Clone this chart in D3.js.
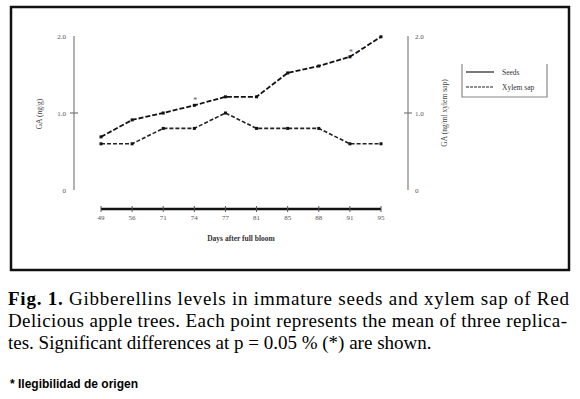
<!DOCTYPE html>
<html>
<head>
<meta charset="utf-8">
<script src="https://cdn.jsdelivr.net/npm/d3@7"></script>
<style>
  body { margin: 0; background: #fff; }
  svg { display: block; }
  .serif { font-family: "Liberation Serif", "Times New Roman", "DejaVu Serif", serif; }
</style>
</head>
<body>
<svg id="chart" width="580" height="399"></svg>
<script>
// data
const days = ["49", "56", "71", "74", "77", "81", "85", "88", "91", "95"];
const seeds = [0.69, 0.91, 1.0, 1.1, 1.21, 1.21, 1.52, 1.61, 1.73, 1.99];
const xylemSap = [0.6, 0.6, 0.8, 0.8, 1.0, 0.8, 0.8, 0.8, 0.6, 0.6];
const yTicks = [0, 1, 2];
const yTickLabels = ["0", "1.0", "2.0"];
const significant = ["74", "91"];
const seriesNames = ["Seeds", "Xylem sap"];
const captionLines = [
  "Gibberellins levels in immature seeds and xylem sap of Red",
  "Delicious apple trees. Each point represents the mean of three replica-",
  "tes. Significant differences at p = 0.05 % (*) are shown."
];

(function renderChart() {
  const svg = d3.select("#chart");

  // frame around the figure
  svg.append("rect")
    .attr("x", 11).attr("y", 7)
    .attr("width", 558).attr("height", 263)
    .attr("fill", "none")
    .attr("stroke", "#111")
    .attr("stroke-width", 2.5);

  const x = d3.scalePoint().domain(days).range([101, 381]);
  const y = d3.scaleLinear().domain([0, 2]).range([190, 36]);

  // left y axis
  const left = svg.append("g").attr("class", "serif").attr("transform", "translate(74,0)");
  left.append("line")
    .attr("y1", y(0)).attr("y2", y(2))
    .attr("stroke", "#999").attr("stroke-width", 1.5);
  left.selectAll("line.tick")
    .data(yTicks.slice(1, 2))
    .enter().append("line")
    .attr("class", "tick")
    .attr("x1", -4).attr("x2", 4)
    .attr("y1", d => y(d)).attr("y2", d => y(d))
    .attr("stroke", "#777").attr("stroke-width", 1.2);
  left.selectAll("text")
    .data(yTicks)
    .enter().append("text")
    .attr("x", -8).attr("y", d => y(d) + 2.5)
    .attr("text-anchor", "end")
    .attr("font-size", 7)
    .attr("fill", "#555")
    .text((d, i) => yTickLabels[i]);

  svg.append("text")
    .attr("class", "serif")
    .attr("transform", "translate(42,114) rotate(-90)")
    .attr("text-anchor", "middle")
    .attr("font-size", 7.5)
    .attr("fill", "#444")
    .text("GA (ng/g)");

  // right y axis
  const right = svg.append("g").attr("class", "serif").attr("transform", "translate(408,0)");
  right.append("line")
    .attr("y1", y(0)).attr("y2", y(2))
    .attr("stroke", "#999").attr("stroke-width", 1.5);
  right.selectAll("line.tick")
    .data(yTicks.slice(1, 2))
    .enter().append("line")
    .attr("class", "tick")
    .attr("x1", -4).attr("x2", 4)
    .attr("y1", d => y(d)).attr("y2", d => y(d))
    .attr("stroke", "#777").attr("stroke-width", 1.2);
  right.selectAll("text")
    .data(yTicks)
    .enter().append("text")
    .attr("x", 7).attr("y", d => y(d) + 2.5)
    .attr("font-size", 7)
    .attr("fill", "#555")
    .text((d, i) => yTickLabels[i]);

  svg.append("text")
    .attr("class", "serif")
    .attr("transform", "translate(447,113) rotate(-90)")
    .attr("text-anchor", "middle")
    .attr("font-size", 7.5)
    .attr("fill", "#444")
    .text("GA (ng/ml xylem sap)");

  // x axis
  const xAxis = svg.append("g").attr("class", "serif").attr("transform", "translate(0,209)");
  xAxis.append("line")
    .attr("x1", x(days[0])).attr("x2", x(days[days.length - 1]))
    .attr("stroke", "#111").attr("stroke-width", 2.5);
  xAxis.selectAll("line.tick")
    .data(days)
    .enter().append("line")
    .attr("class", "tick")
    .attr("x1", d => x(d)).attr("x2", d => x(d))
    .attr("y1", -3).attr("y2", 3)
    .attr("stroke", "#555").attr("stroke-width", 1);
  xAxis.selectAll("text")
    .data(days)
    .enter().append("text")
    .attr("x", d => x(d)).attr("y", 11)
    .attr("text-anchor", "middle")
    .attr("font-size", 7)
    .attr("fill", "#555")
    .text(d => d);

  svg.append("text")
    .attr("class", "serif")
    .attr("x", 241).attr("y", 241)
    .attr("text-anchor", "middle")
    .attr("font-size", 7.5)
    .attr("font-weight", "bold")
    .attr("fill", "#333")
    .text("Days after full bloom");

  // series
  const line = d3.line()
    .x((d, i) => x(days[i]))
    .y(d => y(d));

  svg.append("path")
    .datum(seeds)
    .attr("d", line)
    .attr("fill", "none")
    .attr("stroke", "#111").attr("stroke-width", 1.8)
    .attr("stroke-dasharray", "5,2");

  svg.append("path")
    .datum(xylemSap)
    .attr("d", line)
    .attr("fill", "none")
    .attr("stroke", "#222").attr("stroke-width", 1.6)
    .attr("stroke-dasharray", "4,2");

  [seeds, xylemSap].forEach(s => {
    svg.append("g").selectAll("rect")
      .data(s)
      .enter().append("rect")
      .attr("x", (d, i) => x(days[i]) - 1.5)
      .attr("y", d => y(d) - 1.5)
      .attr("width", 3).attr("height", 3)
      .attr("fill", "#111");
  });

  // significance marks
  svg.selectAll("text.sig")
    .data(significant)
    .enter().append("text")
    .attr("class", "sig serif")
    .attr("x", d => x(d) + 1)
    .attr("y", d => y(seeds[days.indexOf(d)]) - 2)
    .attr("text-anchor", "middle")
    .attr("font-size", 8)
    .attr("fill", "#555")
    .text("*");

  // legend
  const lg = svg.append("g").attr("class", "serif").attr("transform", "translate(462,64)");
  lg.append("path")
    .attr("d", "M0,0V33H85V0")
    .attr("fill", "none")
    .attr("stroke", "#888").attr("stroke-width", 1.2);
  const items = lg.selectAll("g.item")
    .data(seriesNames)
    .enter().append("g")
    .attr("class", "item")
    .attr("transform", (d, i) => `translate(0,${8 + i * 15})`);
  items.append("line")
    .attr("x1", 4).attr("x2", 32)
    .attr("stroke", "#222").attr("stroke-width", 1.2)
    .attr("stroke-dasharray", (d, i) => i === 0 ? null : "3,1");
  items.append("text")
    .attr("x", 40).attr("y", 2.5)
    .attr("font-size", 7.5)
    .attr("fill", "#333")
    .text(d => d);

  // caption
  const cap = svg.append("g").attr("class", "serif").attr("font-size", 19);
  const baselines = [305, 327, 349];
  const first = cap.append("text").attr("x", 8).attr("y", baselines[0])
    .attr("textLength", 561).attr("lengthAdjust", "spacing");
  first.append("tspan").attr("font-weight", "bold").text("Fig. 1.");
  first.append("tspan").text(" " + captionLines[0]);
  cap.append("text").attr("x", 8).attr("y", baselines[1])
    .attr("textLength", 559).attr("lengthAdjust", "spacing")
    .text(captionLines[1]);
  cap.append("text").attr("x", 8).attr("y", baselines[2])
    .text(captionLines[2]);

  svg.append("text")
    .attr("x", 10).attr("y", 388)
    .attr("font-family", "'Liberation Sans', Arial, sans-serif")
    .attr("font-size", 12).attr("font-weight", "bold")
    .text("* Ilegibilidad de origen");
})();
</script>
</body>
</html>
